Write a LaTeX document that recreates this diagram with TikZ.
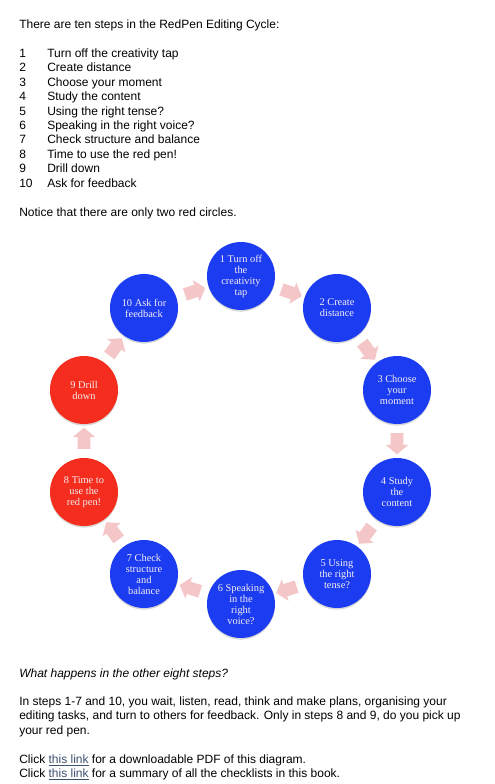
\documentclass[tikz,border=0pt]{standalone}
\usepackage{fontspec}
\setmainfont{Liberation Sans}
\newfontfamily\circfont{Liberation Serif}
\usetikzlibrary{shapes.arrows,shadows}
\definecolor{stepblue}{RGB}{28,60,242}
\definecolor{stepred}{RGB}{245,45,30}
\definecolor{arrowpink}{RGB}{244,198,199}
\definecolor{linkcol}{RGB}{62,82,114}
\definecolor{circtext}{RGB}{244,238,238}
\begin{document}
\begin{tikzpicture}[x=0.75pt,y=-0.75pt,
  txt/.style={anchor=base west,inner sep=0pt,font=\fontsize{9pt}{10.8pt}\selectfont},
  stepcirc/.style={circle,minimum size=51pt,inner sep=0pt,align=center,
    text=circtext,font=\circfont\fontsize{7.8pt}{8.25pt}\selectfont,
    drop shadow={shadow xshift=0pt,shadow yshift=-1.2pt,opacity=0.25,fill=black!60}},
  bluestep/.style={stepcirc,fill=stepblue},
  redstep/.style={stepcirc,fill=stepred},
  cyclearrow/.style={single arrow,fill=arrowpink,draw=none,inner xsep=0pt,inner ysep=4.6pt,
    minimum height=16pt,single arrow head extend=3.6pt,
    single arrow tip angle=100}]
\useasboundingbox[fill=white] (0,0) rectangle (495,784);
% intro text
\node[txt] (intro) at (19,29) {There are ten steps in the RedPen Editing Cycle:};
\foreach \n/\t [count=\i from 0] in {1/Turn off the creativity tap,2/Create distance,3/Choose your moment,4/Study the content,5/Using the right tense?,6/Speaking in the right voice?,7/Check structure and balance,8/Time to use the red pen!,9/Drill down,10/Ask for feedback}{
  \node[txt] (num\n) at (19,57.5+14.4*\i) {\n};
  \node[txt] (item\n) at (47,57.5+14.4*\i) {\t};
}
\node[txt] (notice) at (19,216) {Notice that there are only two red circles.};
% circles
\node[bluestep] (s1) at (241,276) {1 Turn off\\the\\creativity\\tap};
\node[bluestep] (s2) at (337,308) {2 Create\\distance};
\node[bluestep] (s3) at (397,390) {3 Choose\\your\\moment};
\node[bluestep] (s4) at (397,492) {4 Study\\the\\content};
\node[bluestep] (s5) at (337,574) {5 Using\\the right\\tense?};
\node[bluestep] (s6) at (241,604) {6 Speaking\\in the\\right\\voice?};
\node[bluestep] (s7) at (144,574) {7 Check\\structure\\and\\balance};
\node[redstep] (s8) at (84,492) {8 Time to\\use the\\red pen!};
\node[redstep] (s9) at (84,390) {9 Drill\\down};
\node[bluestep] (s10) at (144,308) {10 Ask for\\feedback};
% arrows
\foreach \a/\b/\ang in {s1/s2/-18.4,s2/s3/-53.8,s3/s4/-90,s4/s5/-126.2,s5/s6/-162.6,s6/s7/162.8,s7/s8/126.2,s8/s9/90,s9/s10/53.8,s10/s1/18.3}{
  \path (\a.center) -- (\b.center) node[cyclearrow,midway,rotate=\ang] (arr-\a) {};
}
% bottom text
\node[txt,font=\fontsize{9pt}{10.8pt}\selectfont\itshape] (question) at (19,677) {What happens in the other eight steps?};
\node[txt] (para1) at (19,705.3) {In steps 1-7 and 10, you wait, listen, read, think and make plans, organising your};
\node[txt] (para2) at (19,719.7) {editing tasks, and turn to others for feedback. Only in steps 8 and 9, do you pick up};
\node[txt] (para3) at (19,734.1) {your red pen.};
\node[txt] (link1) at (19,763) {Click {\color{linkcol}\underline{this link}} for a downloadable PDF of this diagram.};
\node[txt] (link2) at (19,777.4) {Click {\color{linkcol}\underline{this link}} for a summary of all the checklists in this book.};
\end{tikzpicture}
\end{document}
